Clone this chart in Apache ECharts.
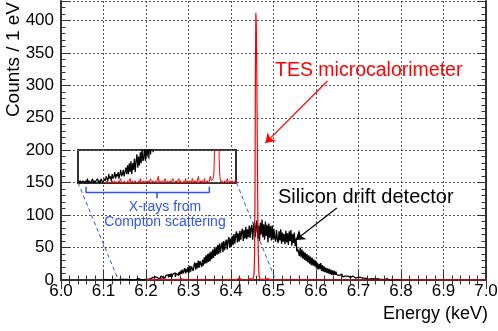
<!DOCTYPE html>
<html>
<head>
<meta charset="utf-8">
<script src="https://cdn.jsdelivr.net/npm/echarts@6/dist/echarts.min.js"></script>
<style>
  html, body { margin: 0; padding: 0; background: #fff; }
  #chart { width: 498px; height: 331px; }
</style>
</head>
<body>
<div id="chart"></div>
<script>
// Silicon drift detector, 2 eV bins starting at 6.100 keV (counts per 1 eV)
const sddStart = 6.100
const sddStep = 0.002
const sddCounts = [
  0,0,1,0,0, 0,1,0,0,0, 0,0,0,1,0, 1,0,0,0,1, 0,1,0,0,1,
  1,0,1,0,2, 0,1,1,0,1, 2,0,1,0,1, 1,2,0,1,0, 2,1,0,1,2,
  1,3,2,1,4, 2,3,1,4,2, 3,5,2,4,3, 5,2,4,6,3, 4,6,3,5,7,
  4,8,4,9,5, 10,4,9,6,11, 5,10,13,7,12, 8,14,9,16,10, 11,18,10,17,12,
  20,11,22,13,21, 24,14,23,27,16, 26,18,30,19,29, 32,20,31,22,35, 25,38,26,40,28,
  42,29,44,32,47, 34,49,37,51,39, 54,40,56,42,52, 58,43,60,46,57, 62,47,61,66,50,
  64,51,68,54,71, 56,69,75,58,72, 59,76,62,74,79, 60,77,64,82,63, 78,66,84,65,80,
  85,62,80,90,66, 83,92,64,84,60, 88,70,93,66,86, 62,90,68,85,58, 87,65,83,61,84,
  62,79,65,59,77, 63,57,75,61,78, 56,73,59,71,55, 76,58,72,54,75, 60,77,53,71,57,
  73,52,64,44,48, 45,37,50,35,47, 33,44,31,42,29, 40,27,38,25,36, 23,34,22,32,21,
  30,18,27,16,25, 17,26,14,23,13, 21,12,19,11,18, 10,17,9,16,8, 15,8,14,8,13,
  8,11,7,10,6, 9,7,5,8,6, 7,4,6,5,7, 4,5,3,6,4, 5,3,4,2,4,
  3,2,4,3,2, 3,1,2,3,1, 2,2,1,3,1, 2,0,1,2,1, 1,0,2,1,0,
  1,0,1,1,0, 0,1,0,2,0, 1,0,0,1,0, 0,1,0,0,0, 1,0,0,0,0, 0
]

// TES microcalorimeter: background below the line (2 eV bins)
const tesLowStart = 6.200
const tesLowStep = 0.002
const tesLow = [
  0,0,1,0,0, 0,0,0,1,0, 0,1,0,0,0, 1,0,0,2,0, 0,0,1,0,0,
  0,1,0,0,2, 0,0,1,0,0, 1,0,0,0,1, 0,2,0,0,1, 0,0,1,0,0,
  1,0,0,2,0, 0,1,0,0,1, 0,0,3,0,1, 0,0,1,0,0, 2,0,0,1,0,
  0,1,0,0,2, 1,0,0,1,0, 0,2,0,1,0, 0,0,1,0,2, 0,1,0,0,1,
  0,0,2,0,1, 0,1,0,0,3, 0,0,1,0,1, 0,2,0,0,1, 1,0,2,3,1
]
// TES line, 1 eV bins starting at 6.450 keV
const tesPeakStart = 6.450
const tesPeakStep = 0.001
const tesPeak = [1,1,2,3,6,14,40,130,330,412,395,335,250,150,70,30,12,5,3,1,1,0,1]
// TES background above the line (2 eV bins)
const tesHighStart = 6.474
const tesHighStep = 0.002
const tesHigh = [
  1,0,0,1,0, 0,2,0,0,1, 0,0,1,0,0, 1,0,0,0,1, 0,0,1,0,0,
  0,1,0,0,0, 1,0,0,0,0, 1,0,0,1,0, 0,0,0,1,0, 0,0,1,0,0,
  0,0,0,0,1, 0,0,0,0,0, 1,0,0,0
]

const xTicks = [6.0, 7.0, 0.1]
const yTicks = [0, 430, 50]
// zoomed window shown in the inset (energy range, count range)
const insetX = [6.135, 6.505]
const insetY = [0, 15]

const blue = '#2f55ee'
const font = 'Liberation Sans, Arial, Helvetica, sans-serif'

function toPairs(start, step, values) {
  return values.map((v, i) => [+(start + i * step).toFixed(4), v])
}

const sddData = toPairs(sddStart, sddStep, sddCounts)
const tesData = toPairs(tesLowStart, tesLowStep, tesLow)
  .concat(toPairs(tesPeakStart, tesPeakStep, tesPeak))
  .concat(toPairs(tesHighStart, tesHighStep, tesHigh))
tesData.push([7.0, 0])

const frame = { show: true, lineStyle: { color: '#333', width: 2 } }
const ticks = { show: true, inside: true, length: 9, lineStyle: { color: '#333', width: 1 } }
const minor = { show: true, splitNumber: 5, length: 4.5, lineStyle: { color: '#333', width: 1 } }
const dotted = { show: true, lineStyle: { color: '#555', width: 1, type: [2, 2] } }

const option = {
  animation: false,
  grid: [
    { left: 61, right: 12, top: 1, bottom: 51, outerBoundsMode: 'none', containLabel: false },
    { left: 78, top: 150, width: 158, height: 33, outerBoundsMode: 'none', containLabel: false,
      show: true, borderColor: '#333', borderWidth: 2, backgroundColor: 'transparent' }
  ],
  xAxis: [
    {
      type: 'value', gridIndex: 0, min: xTicks[0], max: xTicks[1], interval: xTicks[2],
      axisLine: frame, axisTick: ticks, minorTick: minor, splitLine: dotted,
      axisLabel: { fontSize: 17, fontFamily: font, color: '#000', margin: 3, formatter: v => v.toFixed(1) },
      name: 'Energy (keV)', nameLocation: 'end', nameGap: 2,
      nameTextStyle: { fontSize: 18, fontFamily: font, color: '#000', align: 'right', verticalAlign: 'top', padding: [25, 0, 0, 0] }
    },
    {
      type: 'value', gridIndex: 0, position: 'top', min: xTicks[0], max: xTicks[1], interval: xTicks[2],
      axisLine: frame, axisTick: ticks, minorTick: minor, splitLine: { show: false }, axisLabel: { show: false }
    },
    { type: 'value', gridIndex: 1, min: insetX[0], max: insetX[1], show: false }
  ],
  yAxis: [
    {
      type: 'value', gridIndex: 0, min: yTicks[0], max: yTicks[1], interval: yTicks[2],
      axisLine: frame, axisTick: ticks, minorTick: minor, splitLine: dotted,
      axisLabel: { fontSize: 17, fontFamily: font, color: '#000', margin: 7, showMaxLabel: false }
    },
    {
      type: 'value', gridIndex: 0, position: 'right', min: yTicks[0], max: yTicks[1], interval: yTicks[2],
      axisLine: frame, axisTick: ticks, minorTick: minor, splitLine: { show: false }, axisLabel: { show: false }
    },
    { type: 'value', gridIndex: 1, min: insetY[0], max: insetY[1], show: false }
  ],
  series: [
    // links from the inset to the zoomed region
    { type: 'line', xAxisIndex: 0, yAxisIndex: 0, symbol: 'none', silent: true,
      lineStyle: { color: blue, width: 1, type: [4, 3] }, data: [[6.04, 150], [insetX[0], 0]] },
    { type: 'line', xAxisIndex: 0, yAxisIndex: 0, symbol: 'none', silent: true,
      lineStyle: { color: blue, width: 1, type: [4, 3] }, data: [[6.413, 150], [insetX[1], 0]] },
    // bracket under the inset
    { type: 'line', xAxisIndex: 0, yAxisIndex: 0, symbol: 'none', silent: true,
      lineStyle: { color: blue, width: 1.5 }, data: [[6.059, 143.6], [6.059, 135], [6.349, 135], [6.349, 143.6]] },
    { type: 'line', xAxisIndex: 0, yAxisIndex: 0, symbol: 'none', silent: true,
      lineStyle: { color: blue, width: 1.5 }, data: [[6.226, 135], [6.226, 126]] },
    {
      name: 'SDD', type: 'line', xAxisIndex: 0, yAxisIndex: 0, step: 'middle', symbol: 'none',
      lineStyle: { color: '#000', width: 1.3 }, data: sddData,
      markLine: {
        silent: true, symbol: ['none', 'arrow'], symbolSize: 9, label: { show: false },
        lineStyle: { color: '#000', width: 1.2, type: 'solid' },
        data: [[{ coord: [6.649, 111] }, { coord: [6.552, 61.6] }]]
      }
    },
    {
      name: 'TES', type: 'line', xAxisIndex: 0, yAxisIndex: 0, step: 'middle', symbol: 'none',
      lineStyle: { color: '#ff0000', width: 1.2 }, data: tesData,
      markLine: {
        silent: true, symbol: ['none', 'arrow'], symbolSize: 9, label: { show: false },
        lineStyle: { color: '#ff0000', width: 1.2, type: 'solid' },
        data: [[{ coord: [6.627, 306.7] }, { coord: [6.481, 211] }]]
      }
    },
    // inset
    { type: 'line', xAxisIndex: 2, yAxisIndex: 2, step: 'middle', symbol: 'none', clip: true,
      lineStyle: { color: '#000', width: 1.2 }, data: sddData },
    { type: 'line', xAxisIndex: 2, yAxisIndex: 2, step: 'middle', symbol: 'none', clip: true,
      lineStyle: { color: '#ff0000', width: 1 }, data: tesData }
  ],
  graphic: [
    { type: 'text', x: 23, y: 2, rotation: Math.PI / 2, z: 10,
      style: { text: 'Counts / 1 eV', fill: '#000', fontSize: 19, fontFamily: font, align: 'right', verticalAlign: 'bottom' } },
    { type: 'text', x: 275, y: 71, z: 10,
      style: { text: 'TES microcalorimeter', fill: '#ff0000', fontSize: 19.5, fontFamily: font, align: 'left', verticalAlign: 'middle' } },
    { type: 'text', x: 278, y: 197, z: 10,
      style: { text: 'Silicon drift detector', fill: '#000', fontSize: 20, fontFamily: font, align: 'left', verticalAlign: 'middle' } },
    { type: 'text', x: 165, y: 215, z: 10,
      style: { text: 'X-rays from\nCompton scattering', fill: blue, fontSize: 14, lineHeight: 15, fontFamily: font, align: 'center', verticalAlign: 'middle' } }
  ]
}

const myChart = echarts.init(document.getElementById('chart'))
myChart.setOption(option)
</script>
</body>
</html>
